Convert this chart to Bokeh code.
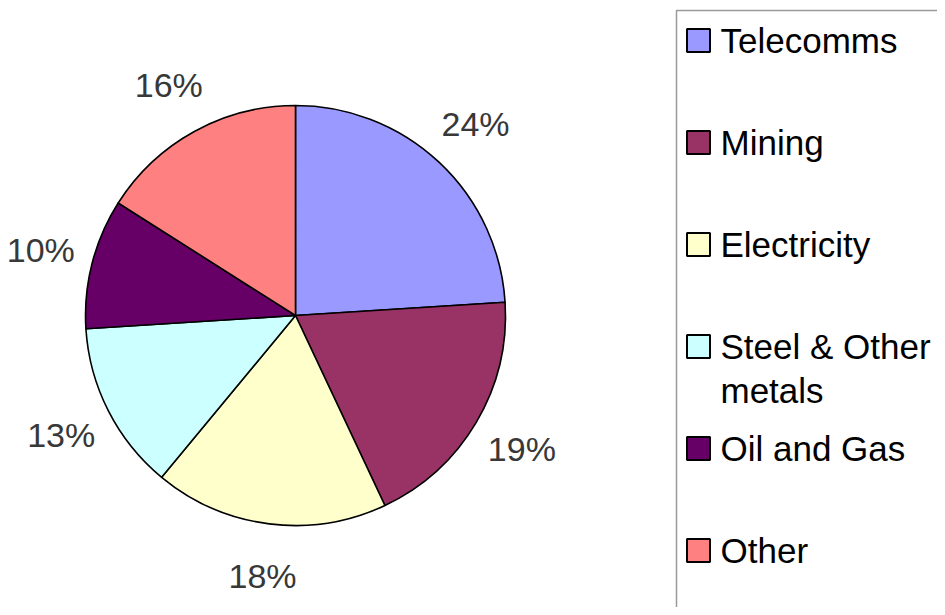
import math
from bokeh.plotting import figure
from bokeh.models import ColumnDataSource, Range1d
from bokeh.core.properties import value
from bokeh.embed import file_html
from bokeh.resources import INLINE

# ---- data ----
categories = ["Telecomms", "Mining", "Electricity", "Steel & Other metals", "Oil and Gas", "Other"]
legend_lines = [["Telecomms"], ["Mining"], ["Electricity"], ["Steel & Other", "metals"], ["Oil and Gas"], ["Other"]]
shares = [24, 19, 18, 13, 10, 16]
colors = ["#9999FF", "#993366", "#FFFFCC", "#CCFFFF", "#660066", "#FF8080"]

W, H = 937, 607
p = figure(width=W, height=H, output_backend="svg", toolbar_location=None,
           x_range=Range1d(0, W), y_range=Range1d(0, H), min_border=0,
           background_fill_color="white", border_fill_color="white")
p.axis.visible = False
p.grid.visible = False
p.outline_line_color = None

FONT = "Liberation Sans"

# pie geometry (pixel units)
cx, cy, R = 295, 292, 210
label_r = 263

total = float(sum(shares))
starts, ends, lx, ly, labels = [], [], [], [], []
cum = 0.0
for s in shares:
    a0 = math.pi / 2 - cum / total * 2 * math.pi
    cum += s
    a1 = math.pi / 2 - cum / total * 2 * math.pi
    starts.append(a0)
    ends.append(a1)
    mid = (a0 + a1) / 2
    lx.append(cx + label_r * math.cos(mid))
    ly.append(cy + label_r * math.sin(mid))
    labels.append(f"{s}%")

src = ColumnDataSource(dict(start=starts, end=ends, color=colors, cat=categories))
p.wedge(x=cx, y=cy, radius=R, start_angle="start", end_angle="end", direction="clock",
        fill_color="color", line_color="black", line_width=1.6, source=src)

lsrc = ColumnDataSource(dict(x=lx, y=ly, t=labels))
p.text(x="x", y="y", text="t", source=lsrc, text_font=value(FONT), text_font_size="34px",
       text_color="#383838", text_align="center", text_baseline="middle")

# legend box
p.quad(left=676, right=990, bottom=-30, top=597, fill_color=None,
       line_color="#9a9a9a", line_width=1.5)

top_y, step, line_gap = 567, 102, 44
sq_x, sq_y, tx, ty, tt = [], [], [], [], []
for i, lines in enumerate(legend_lines):
    yy = top_y - i * step
    sq_x.append(698)
    sq_y.append(yy)
    for j, ln in enumerate(lines):
        tx.append(720)
        ty.append(yy - j * line_gap)
        tt.append(ln)

p.rect(x=sq_x, y=sq_y, width=23, height=23, fill_color=colors, line_color="black", line_width=2)
p.text(x=tx, y=ty, text=tt, text_font=value(FONT), text_font_size="35px",
       text_color="black", text_align="left", text_baseline="middle")

open("out.html", "w").write(file_html(p, INLINE))
